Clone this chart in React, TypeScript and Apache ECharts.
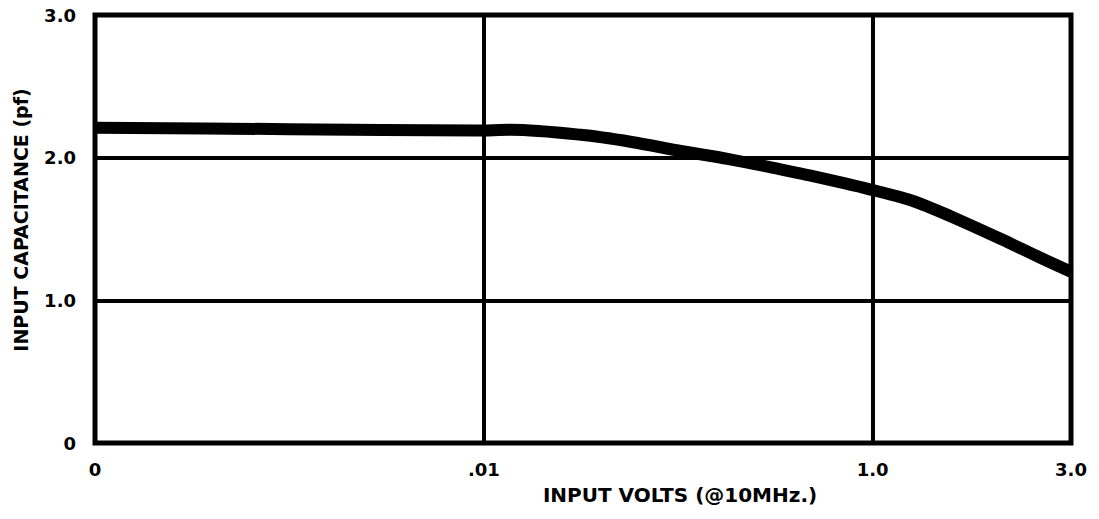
import React, { useEffect, useRef } from "react";
import * as echarts from "echarts";

// x positions are in chart units: 0 -> "0", 1 -> ".01", 2 -> "1.0", 2.51 -> "3.0"
const xTickValues = [0, 1, 2, 2.51];
const xTickLabels = ["0", ".01", "1.0", "3.0"];
const yTickValues = [0, 1, 2, 3];
const yTickLabels = ["0", "1.0", "2.0", "3.0"];

const curveX = [0, 0.5, 0.98, 1.07, 1.25, 1.38, 1.5, 1.63, 1.76, 1.83, 1.99, 2.1, 2.2, 2.33, 2.43, 2.51];
const curveY = [2.21, 2.2, 2.19, 2.195, 2.16, 2.11, 2.05, 1.99, 1.92, 1.88, 1.78, 1.7, 1.59, 1.43, 1.3, 1.2];

const xGridValues = [1, 2];
const yGridValues = [1, 2];

const xTitle = "INPUT VOLTS (@10MHz.)";
const yTitle = "INPUT CAPACITANCE (pf)";

const FONT = "DejaVu Sans";

export default function App() {
  const ref = useRef<HTMLDivElement>(null);

  useEffect(() => {
    if (!ref.current) return;
    const chart = echarts.init(ref.current, null, { renderer: "svg" });
    const data = curveX.map((x, i) => [x, curveY[i]]);
    const labelStyle = {
      color: "#000",
      fontFamily: FONT,
      fontWeight: "bold" as const,
      fontSize: 18,
    };
    chart.setOption({
      animation: false,
      backgroundColor: "#fff",
      grid: {
        left: 95,
        top: 15,
        right: 28,
        bottom: 76,
        show: true,
        borderColor: "#000",
        borderWidth: 5,
      },
      xAxis: {
        type: "value",
        min: 0,
        max: 2.51,
        axisLine: { show: false },
        axisTick: { show: false },
        splitLine: { show: false },
        axisLabel: {
          ...labelStyle,
          margin: 17,
          customValues: xTickValues,
          formatter: (v: number) => {
            const i = xTickValues.findIndex((t) => Math.abs(t - v) < 1e-6);
            return i >= 0 ? xTickLabels[i] : "";
          },
        },
      },
      yAxis: {
        type: "value",
        min: 0,
        max: 3,
        interval: 1,
        axisLine: { show: false },
        axisTick: { show: false },
        splitLine: { show: false },
        axisLabel: {
          ...labelStyle,
          margin: 19,
          formatter: (v: number) => {
            const i = yTickValues.findIndex((t) => Math.abs(t - v) < 1e-6);
            return i >= 0 ? yTickLabels[i] : "";
          },
        },
      },
      graphic: [
        {
          type: "text",
          x: 680,
          y: 495,
          style: {
            text: xTitle,
            fill: "#000",
            font: `bold 20px "${FONT}"`,
            align: "center",
            verticalAlign: "middle",
          },
        },
        {
          type: "text",
          x: 21,
          y: 220,
          rotation: Math.PI / 2,
          style: {
            text: yTitle,
            fill: "#000",
            font: `bold 19px "${FONT}"`,
            align: "center",
            verticalAlign: "middle",
          },
        },
      ],
      series: [
        {
          type: "line",
          data,
          smooth: 0.3,
          symbol: "none",
          lineStyle: { color: "#000", width: 12 },
          markLine: {
            silent: true,
            symbol: "none",
            label: { show: false },
            lineStyle: { color: "#000", width: 4, type: "solid" },
            data: [
              ...xGridValues.map((v) => ({ xAxis: v })),
              ...yGridValues.map((v) => ({ yAxis: v })),
            ],
          },
        },
      ],
    });
    return () => chart.dispose();
  }, []);

  return (
    <div
      ref={ref}
      style={{ position: "fixed", left: 0, top: 0, width: 1099, height: 519 }}
    />
  );
}
